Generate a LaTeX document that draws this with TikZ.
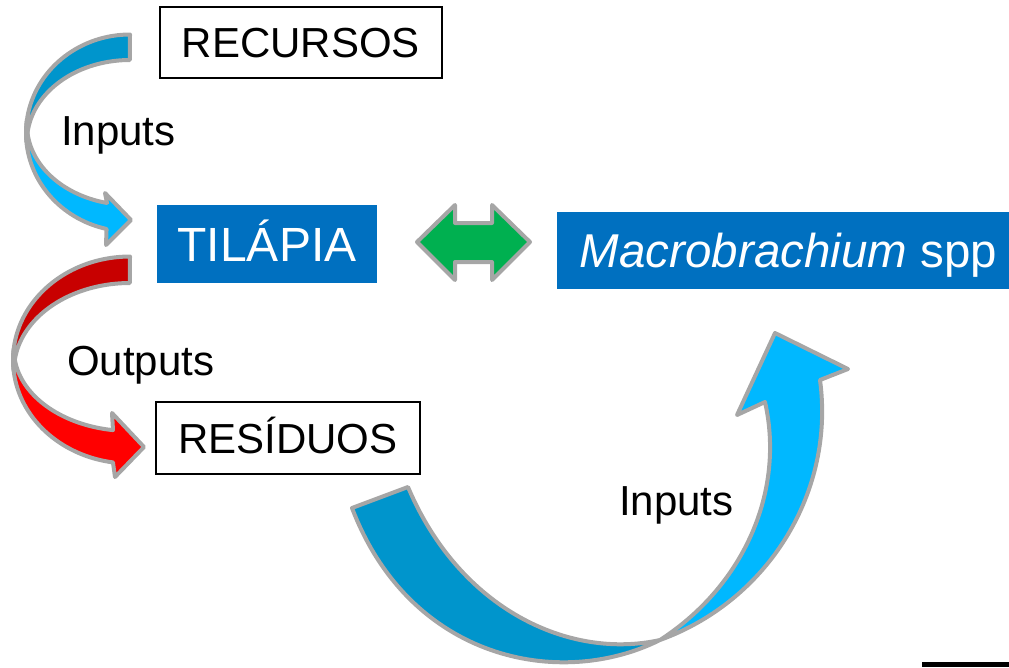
\documentclass[tikz,border=0pt]{standalone}
\usepackage{fontspec}
\setmainfont{Liberation Sans}
\definecolor{boxblue}{RGB}{0,112,192}
\definecolor{darkblue}{RGB}{0,149,204}
\definecolor{lightblue}{RGB}{0,184,255}
\definecolor{darkred}{RGB}{200,0,0}
\definecolor{brightred}{RGB}{255,0,0}
\definecolor{arrowgreen}{RGB}{0,176,80}
\definecolor{outlinegray}{RGB}{166,166,166}
\begin{document}
\begin{tikzpicture}[x=1pt,y=-1pt,
  blockarrow/.style={draw=outlinegray, line width=4pt, line join=round},
  whitebox/.style={draw=black, line width=1.8pt, fill=white, inner sep=0pt,
    font=\fontsize{42}{50}\selectfont, text height=30pt, text depth=0pt},
  bluebox/.style={fill=boxblue, text=white, inner sep=0pt, text depth=0pt},
  lbl/.style={inner sep=0pt, anchor=base west, font=\fontsize{42}{50}\selectfont}]
\useasboundingbox (0,0) rectangle (1009,667);

% top blue curved arrow (Inputs)
\draw[blockarrow, fill=lightblue]
  plot[domain=0:1, samples=40, variable=\t] ({130+104*cos(188-85*\t)}, {133+98.5*sin(188-85*\t)})
  -- (106,245) -- (131,220) -- (105,193) -- (107,203)
  -- plot[domain=0:1, samples=40, variable=\t] ({130+103*cos(102.9+77.1*\t)}, {125+80*sin(102.9+77.1*\t)})
  -- cycle;
\draw[blockarrow, fill=darkblue]
  plot[domain=0:1, samples=40, variable=\t] ({130+104*cos(270-95*\t)}, {133+98.5*sin(270-95*\t)})
  -- plot[domain=0:1, samples=40, variable=\t] ({130+103*cos(180+90*\t)}, {141+81*sin(180+90*\t)})
  -- cycle;

% red curved arrow (Outputs)
\draw[blockarrow, fill=brightred]
  plot[domain=0:1, samples=40, variable=\t] ({130+117*cos(186-87.65*\t)}, {360+103.5*sin(186-87.65*\t)})
  -- (115,477) -- (144,447) -- (112,413) -- (113,430)
  -- plot[domain=0:1, samples=40, variable=\t] ({130+116*cos(98.43+81.57*\t)}, {350+81*sin(98.43+81.57*\t)})
  -- cycle;
\draw[blockarrow, fill=darkred]
  plot[domain=0:1, samples=40, variable=\t] ({130+117*cos(270-96*\t)}, {360+103.5*sin(270-96*\t)})
  -- plot[domain=0:1, samples=40, variable=\t] ({130+116*cos(180+90*\t)}, {370+87*sin(180+90*\t)})
  -- cycle;

% big bottom arrow
\draw[blockarrow, fill=darkblue]
  (352,508) .. controls (410,660) and (560,690) .. (660,640)
  .. controls (570,660) and (460,610) .. (408,487) -- cycle;
\draw[blockarrow, fill=lightblue]
  (660,640) .. controls (770,600) and (835,490) .. (820,380)
  -- (848,369) -- (775,333) -- (737,415) -- (765,402)
  .. controls (785,490) and (745,585) .. (660,640) -- cycle;

% green double arrow
\draw[blockarrow, fill=arrowgreen]
  (417,242) -- (455,205) -- (455,223) -- (492,223) -- (492,205) -- (530,242)
  -- (492,280) -- (492,262) -- (455,262) -- (455,280) -- cycle;

% boxes
\node[whitebox, minimum width=282, minimum height=71] (recursos) at (301,42.5) {RECURSOS};
\node[bluebox, minimum width=220, minimum height=78, font=\fontsize{48}{56}\selectfont, text height=34.4pt] (tilapia) at (267,244) {TILÁPIA};
\node[bluebox, minimum width=452, minimum height=77] (macro) at (783,250) {};
\node[inner sep=0pt, text=white, font=\fontsize{47.5}{56}\selectfont, text height=34pt, text depth=0pt] (macrotext) at (788.5,250.5) {\itshape Macrobrachium\upshape{} spp};
\node[whitebox, minimum width=264, minimum height=72] (residuos) at (288,438) {RESÍDUOS};

% labels
\node[lbl] (inputsA) at (61,145) {Inputs};
\node[lbl] (outputs) at (67,375) {Outputs};
\node[lbl] (inputsB) at (619,515) {Inputs};

% bar at bottom right
\fill[black] (922,662) rectangle (1009,667);
\end{tikzpicture}
\end{document}
